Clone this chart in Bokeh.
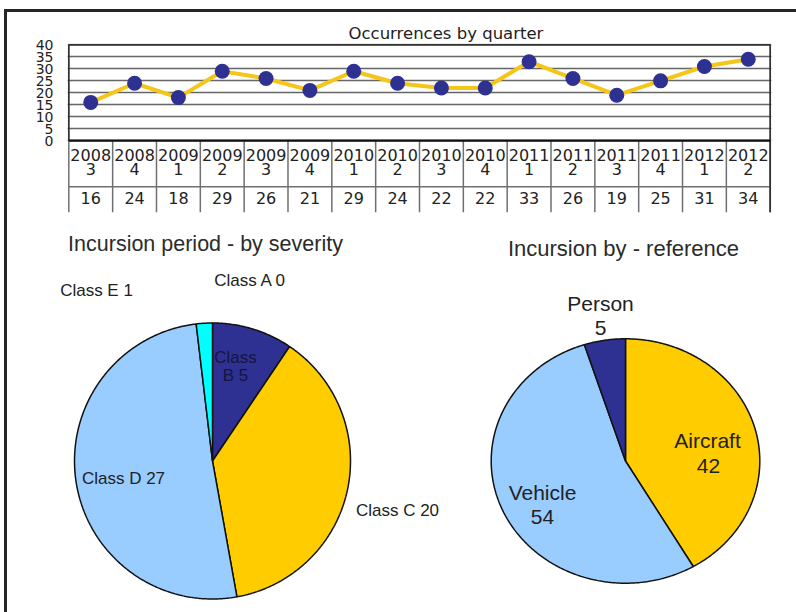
import numpy as np
from bokeh.plotting import figure
from bokeh.layouts import column, row
from bokeh.models import Range1d, FixedTicker
from bokeh.core.properties import value
from bokeh.embed import file_html
from bokeh.resources import INLINE

# ---------------- data ----------------
years = ["2008", "2008", "2009", "2009", "2009", "2009", "2010", "2010",
         "2010", "2010", "2011", "2011", "2011", "2011", "2012", "2012"]
quarters = ["3", "4", "1", "2", "3", "4", "1", "2", "3", "4", "1", "2", "3", "4", "1", "2"]
occurrences = [16, 24, 18, 29, 26, 21, 29, 24, 22, 22, 33, 26, 19, 25, 31, 34]
y_ticks = [0, 5, 10, 15, 20, 25, 30, 35, 40]

severity_names = ["Class A", "Class B", "Class C", "Class D", "Class E"]
severity_values = [0, 5, 20, 27, 1]
severity_colors = ["#2E3192", "#2E3192", "#FFCC00", "#99CCFF", "#00FFFF"]

reference_names = ["Aircraft", "Vehicle", "Person"]
reference_values = [42, 54, 5]
reference_colors = ["#FFCC00", "#99CCFF", "#2E3192"]

ARIAL = value("Liberation Sans")
DEJA = value("DejaVu Sans")
TXT = "#222222"

# page origin of the content (inside the frame border)
OX, OY = 7, 12
TOP_H = 202
BOT_H = 398
SPLIT = 460  # page x where the two pie figures meet
W = 789

# ---------------- top: line chart with data table ----------------
n = len(occurrences)
xs = np.arange(n) + 0.5

top = figure(width=W, height=TOP_H, x_range=Range1d(-0.03, n + 0.03),
             y_range=Range1d(-30, 40.6), output_backend="svg",
             toolbar_location=None, x_axis_location=None,
             min_border_left=60, min_border_right=25, min_border_top=31,
             min_border_bottom=2)
top.outline_line_color = None
top.background_fill_color = "white"
top.xgrid.grid_line_color = None
top.yaxis.ticker = FixedTicker(ticks=y_ticks)
top.ygrid.ticker = FixedTicker(ticks=y_ticks)
top.ygrid.grid_line_color = "#666666"
top.ygrid.grid_line_width = 1.6
top.yaxis.axis_line_color = None
top.yaxis.major_tick_line_color = None
top.yaxis.minor_tick_line_color = None
top.yaxis.major_tick_out = 0
top.yaxis.major_tick_in = 0
top.yaxis.major_label_standoff = 14
top.yaxis.major_label_text_font = "DejaVu Sans"
top.yaxis.major_label_text_font_size = "14px"
top.yaxis.major_label_text_color = TXT

top.title.text = "Occurrences by quarter"
top.title.align = "left"
top.title.offset = 281
top.title.standoff = 2
top.title.text_font = "DejaVu Sans"
top.title.text_font_size = "16.5px"
top.title.text_font_style = "normal"
top.title.text_color = TXT

# table rows (positions in data units of the y scale)
row_sep = -19.2
top.segment(x0=list(range(n + 1)), y0=[0] * (n + 1), x1=list(range(n + 1)),
            y1=[-30] * (n + 1), line_color="#707070", line_width=1.5)
top.segment(x0=[0], y0=[row_sep], x1=[n], y1=[row_sep], line_color="#707070", line_width=1.5)
# chart box
top.segment(x0=[0, 0, n], y0=[40, 40, 40], x1=[n, 0, n], y1=[40, 0, -30],
            line_color="#333333", line_width=1.8)
top.segment(x0=[0], y0=[0], x1=[n], y1=[0], line_color="#111111", line_width=2.2)

top.line(xs, occurrences, line_color="#F5C518", line_width=4)
top.scatter(xs, occurrences, size=15, fill_color="#2E3092", line_color=None)

top.text(xs, [-5.8] * n, text=years, text_align="center", text_baseline="middle",
         text_font=DEJA, text_font_size="16px", text_color=TXT)
top.text(xs, [-11.7] * n, text=quarters, text_align="center", text_baseline="middle",
         text_font=DEJA, text_font_size="16px", text_color=TXT)
top.text(xs, [-23.8] * n, text=[str(v) for v in occurrences], text_align="center",
         text_baseline="middle", text_font=DEJA, text_font_size="16px", text_color=TXT)


# ---------------- pies ----------------
def pie_shapes(values, colors):
    total = float(sum(values))
    pxs, pys, cols = [], [], []
    cum = 0.0
    for v, c in zip(values, colors):
        a0 = np.pi / 2 - 2 * np.pi * cum / total
        cum += v
        a1 = np.pi / 2 - 2 * np.pi * cum / total
        if v <= 0:
            continue
        th = np.linspace(a0, a1, max(3, int(abs(a1 - a0) / 0.01)))
        pxs.append([0.0] + list(np.cos(th)) + [0.0])
        pys.append([0.0] + list(np.sin(th)) + [0.0])
        cols.append(c)
    return pxs, pys, cols


def pie_fig(width, height, cx, cy, rx, ry):
    # cx, cy: centre in figure pixels from top-left; rx, ry: radius in pixels
    f = figure(width=width, height=height,
               x_range=Range1d(-cx / rx, (width - cx) / rx),
               y_range=Range1d(-(height - cy) / ry, cy / ry),
               output_backend="svg", toolbar_location=None,
               min_border=0, x_axis_location=None, y_axis_location=None)
    f.outline_line_color = None
    f.grid.grid_line_color = None
    return f


BY = OY + TOP_H  # page y of the pie figures' top

# left pie: page centre (212, 460.5), r 138
L_PX, L_PY, L_R = 212, 460.5, 138
left = pie_fig(SPLIT - OX, BOT_H, L_PX - OX, L_PY - BY, L_R, L_R)
pxs, pys, cols = pie_shapes(severity_values, severity_colors)
left.patches(pxs, pys, fill_color=cols, line_color="#111111", line_width=1.5)


def lpos(px, py):
    return (px - L_PX) / L_R, (L_PY - py) / L_R


def ltext(f, conv, px, py, s, size, color=TXT):
    x, y = conv(px, py)
    f.text([x], [y], text=[s], text_align="center", text_baseline="middle",
           text_font=ARIAL, text_font_size=size, text_color=color)


ltext(left, lpos, 205, 243, "Incursion period - by severity", "21.5px", "#2b2b2b")
sev_lbl = [f"{nm} {v}" for nm, v in zip(severity_names, severity_values)]
ltext(left, lpos, 250, 280, sev_lbl[0], "17px")
ltext(left, lpos, 235, 357, "Class", "17px", "#15153f")
ltext(left, lpos, 235, 375, sev_lbl[1].replace("Class ", ""), "17px", "#15153f")
ltext(left, lpos, 397, 510, sev_lbl[2], "17px")
ltext(left, lpos, 123, 478, sev_lbl[3], "17px")
ltext(left, lpos, 96, 290, sev_lbl[4], "17px")

# right pie: page centre (625, 460.5), rx 134.3, ry 122.2
R_PX, R_PY, R_RX, R_RY = 625, 460.5, 134.3, 122.2
right = pie_fig(OX + W - SPLIT, BOT_H, R_PX - SPLIT, R_PY - BY, R_RX, R_RY)
pxs, pys, cols = pie_shapes(reference_values, reference_colors)
right.patches(pxs, pys, fill_color=cols, line_color="#111111", line_width=1.5)


def rpos(px, py):
    return (px - R_PX) / R_RX, (R_PY - py) / R_RY


ltext(right, rpos, 623, 248, "Incursion by - reference", "22px", "#2b2b2b")
ltext(right, rpos, 707, 440, reference_names[0], "21px")
ltext(right, rpos, 708, 465, str(reference_values[0]), "21px")
ltext(right, rpos, 542, 492, reference_names[1], "21px")
ltext(right, rpos, 542, 516, str(reference_values[1]), "21px")
ltext(right, rpos, 600, 303, reference_names[2], "21px")
ltext(right, rpos, 600, 327, str(reference_values[2]), "21px")

layout = column(top, row(left, right), margin=(OY - 3, 0, 0, OX - 3),
                styles={"border-top": "3px solid #262626",
                        "border-left": "3px solid #262626"})

open("out.html", "w").write(file_html(layout, INLINE))
